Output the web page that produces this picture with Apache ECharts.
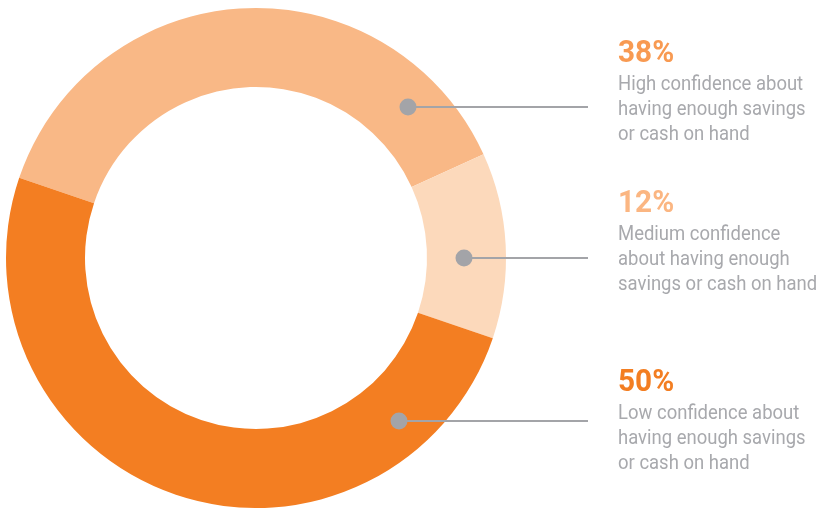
<!DOCTYPE html>
<html>
<head>
<meta charset="utf-8">
<script src="https://cdn.jsdelivr.net/npm/echarts@6/dist/echarts.min.js"></script>
<style>
  html, body { margin: 0; padding: 0; background: #ffffff; }
  #chart { width: 821px; height: 508px; }
</style>
</head>
<body>
<div id="chart"></div>
<script>
// Share of respondents by confidence in savings / cash on hand
const categories = ['High confidence', 'Medium confidence', 'Low confidence'];
const percents = [38, 12, 50];
const descriptions = [
  ['High confidence about', 'having enough savings', 'or cash on hand'],
  ['Medium confidence', 'about having enough', 'savings or cash on hand'],
  ['Low confidence about', 'having enough savings', 'or cash on hand']
];

// Styling
const sliceColors = ['#F9B886', '#FCD9BB', '#F37E22'];
const valueColors = ['#F89A52', '#FBB682', '#F37E22'];
const calloutGray = '#A3A4A8';
const textGray = '#A8A9AD';

// Layout
const cx = 256, cy = 258, rInner = 171, rOuter = 250;
const startAngle = 161.3;
const blockTop = [54.5, 204, 383];   // middle of the percentage line
const calloutY = [107, 258, 421];
const dotX = [408, 464, 399];
const lineEndX = 588;
const textX = 618;
const lineGap = 25;

const chart = echarts.init(document.getElementById('chart'), null, { renderer: 'canvas' });

const graphics = [];
categories.forEach((name, i) => {
  graphics.push({
    type: 'line', silent: true, z: 10,
    shape: { x1: dotX[i], y1: calloutY[i], x2: lineEndX, y2: calloutY[i] },
    style: { stroke: calloutGray, lineWidth: 2 }
  });
  graphics.push({
    type: 'circle', silent: true, z: 11,
    shape: { cx: dotX[i], cy: calloutY[i], r: 8.5 },
    style: { fill: calloutGray }
  });
  graphics.push({
    type: 'text', silent: true, z: 12,
    x: textX, y: blockTop[i], scaleX: 0.96,
    style: {
      text: percents[i] + '%',
      font: 'bold 31px Roboto, "Liberation Sans", sans-serif',
      fill: valueColors[i],
      align: 'left', verticalAlign: 'middle'
    }
  });
  descriptions[i].forEach((line, j) => {
    graphics.push({
      type: 'text', silent: true, z: 12,
      x: textX, y: blockTop[i] + 30.5 + j * lineGap, scaleX: 0.88,
      style: {
        text: line,
        font: '21px Roboto, "Liberation Sans", sans-serif',
        fill: textGray,
        align: 'left', verticalAlign: 'middle'
      }
    });
  });
});

chart.setOption({
  animation: false,
  backgroundColor: '#ffffff',
  series: [{
    type: 'pie',
    center: [cx, cy],
    radius: [rInner, rOuter],
    startAngle: startAngle,
    clockwise: true,
    silent: true,
    label: { show: false },
    labelLine: { show: false },
    emphasis: { disabled: true },
    itemStyle: { borderWidth: 0 },
    data: categories.map((name, i) => ({
      name: name,
      value: percents[i],
      itemStyle: { color: sliceColors[i] }
    }))
  }],
  graphic: graphics
});
</script>
</body>
</html>
